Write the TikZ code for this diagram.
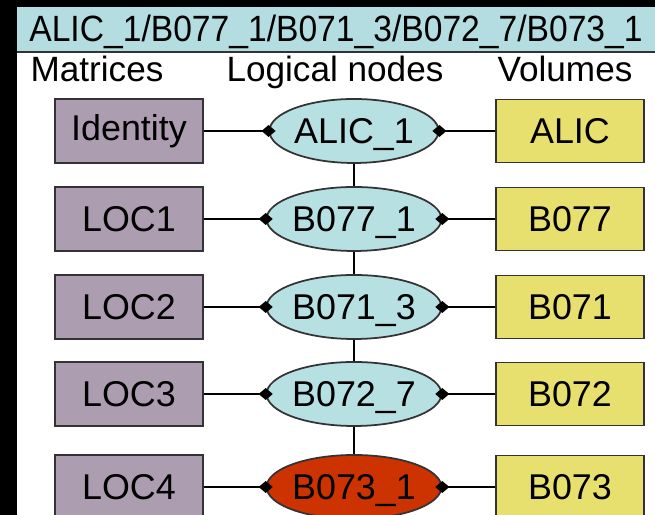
\documentclass[tikz,border=0pt]{standalone}
\usepackage{fontspec}
\setmainfont{Liberation Sans}
\usetikzlibrary{arrows.meta}
\usetikzlibrary{shapes}

\definecolor{matfill}{RGB}{172,157,177}
\definecolor{volfill}{RGB}{232,224,110}
\definecolor{lnfill}{RGB}{183,224,227}
\definecolor{lnred}{RGB}{204,51,0}
\definecolor{bandfill}{RGB}{179,221,225}

\begin{document}
\begin{tikzpicture}
  [x=1cm,y=1cm,
   mat/.style={rectangle,draw=black!80,fill=matfill,line width=0.5pt,minimum width=1.48cm,minimum height=0.64cm,font=\fontsize{10.2}{12}\selectfont},
   vol/.style={rectangle,draw=black!80,fill=volfill,line width=0.5pt,minimum width=1.48cm,minimum height=0.63cm,font=\fontsize{10.2}{12}\selectfont},
   lnode/.style={ellipse,draw=black!80,fill=lnfill,line width=0.5pt,minimum width=1.68cm,minimum height=0.64cm,inner sep=0pt,text depth=0pt,font=\fontsize{10.2}{12}\selectfont},
   head/.style={anchor=base,font=\fontsize{10}{12}\selectfont},
   conn/.style={black,line width=0.4pt}]
  \clip (0,0) rectangle (6.55,-5.15);
  \fill [black] (0,0) rectangle (6.55,-5.15);
  \fill [white] (0.17,-0.07) rectangle (6.55,-5.15);
  \fill [bandfill] (0.17,-0.07) rectangle (6.55,-0.52);
  \draw [black!80,line width=0.6pt] (0.17,-0.52) -- (6.55,-0.52);

  \node[anchor=base,xscale=0.92,transform shape] (title) at (3.36,-0.42) {\fontsize{10.4}{12}\selectfont ALIC\_1/B077\_1/B071\_3/B072\_7/B073\_1};

  \node[head] (h1) at (0.97,-0.82) {Matrices};
  \node[head] (h2) at (3.35,-0.82) {Logical nodes};
  \node[head] (h3) at (5.65,-0.82) {Volumes};

  \node[mat] (m1) at (1.29,-1.31) {Identity};
  \node[mat] (m2) at (1.29,-2.19) {LOC1};
  \node[mat] (m3) at (1.29,-3.07) {LOC2};
  \node[mat] (m4) at (1.29,-3.94) {LOC3};
  \node[mat] (m5) at (1.29,-4.87) {LOC4};

  \node[lnode] (l1) at (3.54,-1.31) {ALIC\_1};
  \node[lnode] (l2) at (3.54,-2.19) {B077\_1};
  \node[lnode] (l3) at (3.54,-3.07) {B071\_3};
  \node[lnode] (l4) at (3.54,-3.94) {B072\_7};
  \node[lnode,fill=lnred] (l5) at (3.54,-4.87) {B073\_1};

  \node[vol] (v1) at (5.70,-1.31) {ALIC};
  \node[vol] (v2) at (5.70,-2.19) {B077};
  \node[vol] (v3) at (5.70,-3.07) {B071};
  \node[vol] (v4) at (5.70,-3.94) {B072};
  \node[vol] (v5) at (5.70,-4.87) {B073};

  \foreach \i in {1,...,5}
  {
    \draw [conn,shorten >=-2pt,-{Diamond[length=4pt,width=3.4pt]}] (m\i) -- (l\i);
    \draw [conn,shorten <=-2pt,{Diamond[length=4pt,width=3.4pt]}-] (l\i) -- (v\i);
  }
  \draw [conn] (l1) -- (l2);
  \draw [conn] (l2) -- (l3);
  \draw [conn] (l3) -- (l4);
  \draw [conn] (l4) -- (l5);
\end{tikzpicture}
\end{document}
